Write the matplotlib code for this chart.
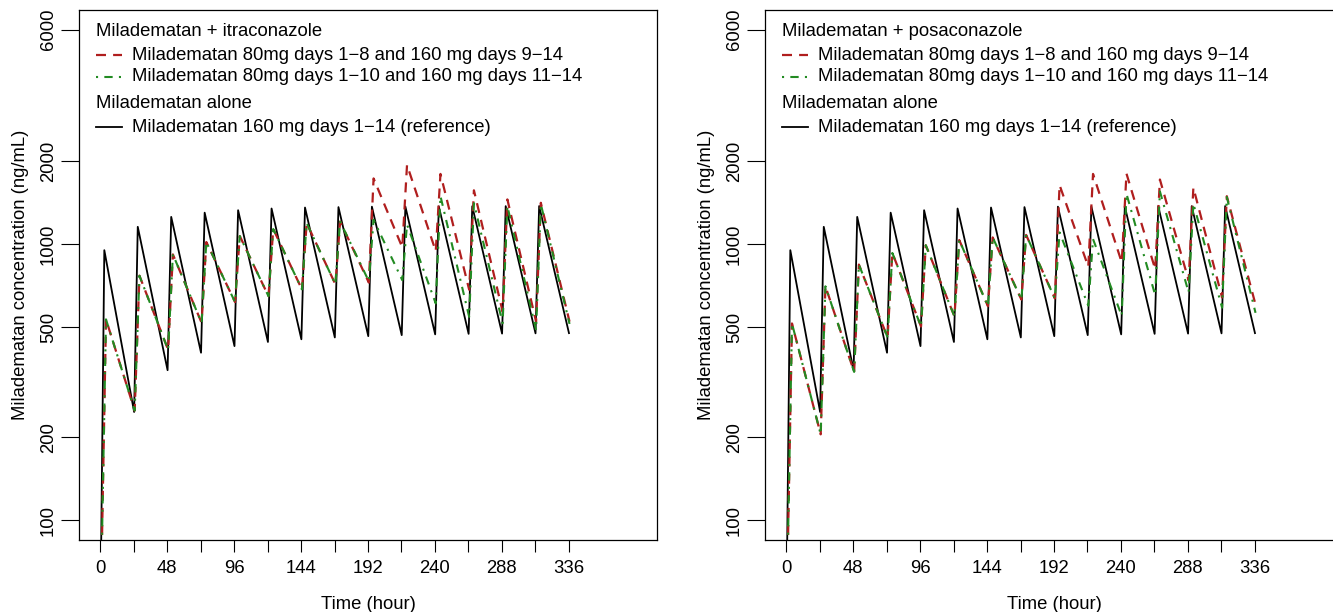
import numpy as np
import matplotlib
matplotlib.use('Agg')
import matplotlib.pyplot as plt
from matplotlib.ticker import FixedLocator, NullLocator

plt.rcParams['font.family'] = ['Liberation Sans Narrow', 'Liberation Sans', 'DejaVu Sans']

# daily dosing, hours
dose_times = [0, 24, 48, 72, 96, 120, 144, 168, 192, 216, 240, 264, 288, 312]
t_end = 336
start_conc = 50  # below the axis, just makes the first rise

# reference: 160 mg days 1-14 (same curve in both panels)
ref_peak = [953, 1158, 1258, 1303, 1330, 1349, 1360, 1365, 1370, 1372, 1374, 1375, 1376, 1377]
ref_trough = [247, 350, 405, 428, 443, 453, 460, 465, 469, 472, 474, 475, 476]
ref_end = 477

# + itraconazole
itra_a_peak = [535, 770, 920, 1020, 1072, 1137, 1194, 1210, 1734, 1940, 1800, 1570, 1455, 1415]
itra_a_trough = [250, 415, 520, 618, 649, 687, 717, 727, 975, 945, 685, 571, 525]
itra_a_end = 525
itra_b_peak = [535, 770, 920, 1020, 1072, 1137, 1194, 1210, 1228, 1180, 1495, 1410, 1376, 1400]
itra_b_trough = [250, 415, 520, 618, 649, 687, 717, 735, 742, 611, 546, 518, 489]
itra_b_end = 515

# + posaconazole
posa_a_peak = [517, 705, 845, 931, 993, 1037, 1060, 1082, 1640, 1800, 1805, 1718, 1605, 1495]
posa_a_trough = [205, 345, 460, 504, 548, 597, 631, 637, 830, 861, 813, 740, 642]
posa_a_end = 605
posa_b_peak = [517, 705, 845, 931, 993, 1037, 1060, 1082, 1105, 1045, 1525, 1555, 1405, 1485]
posa_b_trough = [205, 345, 460, 504, 548, 597, 631, 637, 600, 551, 655, 670, 590]
posa_b_end = 565

y_ticks = [100, 200, 500, 1000, 2000, 6000]
x_ticks = list(range(0, 337, 24))
x_labels = [str(t) if t % 48 == 0 else '' for t in x_ticks]

RED = '#B01E1E'
GREEN = '#228B22'
FS = 13.3


def pk_curve(peaks, troughs, end, lag, tpeak):
    t = [lag * 0.5]
    c = [start_conc]
    for i, d in enumerate(dose_times):
        if i > 0:
            t.append(d + lag)
            c.append(troughs[i - 1])
        t.append(d + tpeak)
        c.append(peaks[i])
    t.append(t_end + lag)
    c.append(end)
    return t, c


def panel(ax, title, a, b):
    t, c = pk_curve(ref_peak, ref_trough, ref_end, 0.2, 2.8)
    ax.plot(t, c, color='black', lw=1.3)
    t, c = pk_curve(*a, 0.6, 4.0)
    ax.plot(t, c, color=RED, lw=1.6, dashes=(4.5, 3.2))
    t, c = pk_curve(*b, 0.6, 4.0)
    ax.plot(t, c, color=GREEN, lw=1.5, dashes=(1, 3, 4, 3))

    ax.set_yscale('log')
    ax.set_xlim(-15.36, 399.36)
    ax.set_ylim(10 ** (2 - 0.0711), 10 ** (np.log10(6000) + 0.0711))
    ax.yaxis.set_major_locator(FixedLocator(y_ticks))
    ax.yaxis.set_minor_locator(NullLocator())
    ax.set_yticklabels([str(v) for v in y_ticks], rotation=90, va='center')
    ax.set_xticks(x_ticks)
    ax.set_xticklabels(x_labels)
    ax.tick_params(axis='x', direction='out', length=8.5, width=0.8, pad=6, labelsize=FS)
    ax.tick_params(axis='y', direction='out', length=13, width=0.8, pad=3, labelsize=FS)
    for s in ax.spines.values():
        s.set_linewidth(0.9)
    ax.set_xlabel('Time (hour)', fontsize=FS)
    ax.xaxis.set_label_coords(0.5, -0.105)
    ax.set_ylabel('Miladematan concentration (ng/mL)', fontsize=FS)
    ax.yaxis.set_label_coords(-0.087, 0.5)

    # legend, R style with group headers
    tr = ax.transAxes
    x0, x1, xt = 0.029, 0.075, 0.092
    ax.text(x0, 0.960, title, transform=tr, fontsize=FS, va='center')
    ax.plot([x0, x1], [0.915, 0.915], transform=tr, color=RED, lw=1.6, dashes=(4.5, 3.2))
    ax.text(xt, 0.915, 'Miladematan 80mg days 1\u22128 and 160 mg days 9\u221214',
            transform=tr, fontsize=FS, va='center')
    ax.plot([x0, x1], [0.874, 0.874], transform=tr, color=GREEN, lw=1.5, dashes=(1, 3, 4, 3))
    ax.text(xt, 0.874, 'Miladematan 80mg days 1\u221210 and 160 mg days 11\u221214',
            transform=tr, fontsize=FS, va='center')
    ax.text(x0, 0.823, 'Miladematan alone', transform=tr, fontsize=FS, va='center')
    ax.plot([x0, x1], [0.779, 0.779], transform=tr, color='black', lw=1.3)
    ax.text(xt, 0.779, 'Miladematan 160 mg days 1\u221214 (reference)',
            transform=tr, fontsize=FS, va='center')


fig = plt.figure(figsize=(13.33, 6.12), dpi=100)
W, H = 1333, 612
ax1 = fig.add_axes([79 / W, 72 / H, 578 / W, 530 / H])
ax2 = fig.add_axes([765 / W, 72 / H, 578 / W, 530 / H])

panel(ax1, 'Miladematan + itraconazole',
      (itra_a_peak, itra_a_trough, itra_a_end), (itra_b_peak, itra_b_trough, itra_b_end))
panel(ax2, 'Miladematan + posaconazole',
      (posa_a_peak, posa_a_trough, posa_a_end), (posa_b_peak, posa_b_trough, posa_b_end))

fig.savefig('out.png', dpi=100)
